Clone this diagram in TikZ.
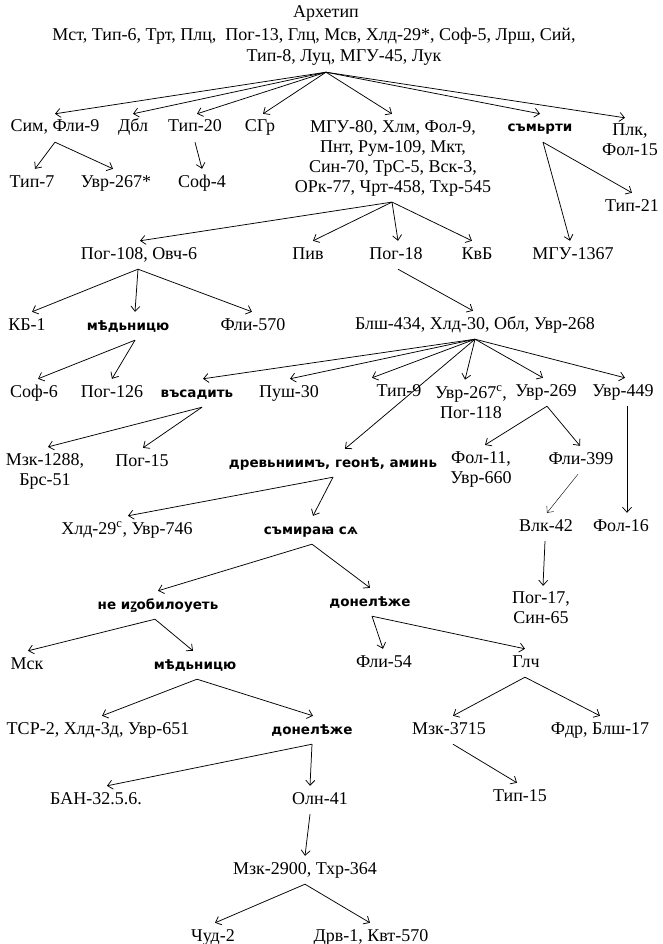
\documentclass[tikz,border=0pt]{standalone}
\usepackage{fontspec}
\setmainfont{Liberation Serif}
\newfontfamily\slavfont{DejaVu Sans}
\newfontfamily\zfont{Noto Sans}[FakeBold=2.2]
\usetikzlibrary{arrows.meta}
\tikzset{
  lbl/.style={font=\fontsize{18}{20}\selectfont, inner xsep=1pt, inner ysep=6pt, text height=12pt, text depth=4pt},
  mlbl/.style={font=\fontsize{18}{20}\selectfont, inner xsep=1pt, inner ysep=6pt, align=center},
  slav/.style={font=\slavfont\bfseries\fontsize{13.5}{16}\selectfont, inner xsep=1pt, inner ysep=6pt, text height=12pt, text depth=4pt},
  arr/.style={-{Straight Barb[length=5pt,width=9pt]}, line width=0.75pt},
}
\begin{document}
\begin{tikzpicture}[x=1pt,y=-1pt]
\useasboundingbox (0,0) rectangle (662,944);
% nodes
\node[lbl] (arch) at (326,14) {Архетип};
\node[lbl] (arch2) at (314,37) {Мст, Тип-6, Трт, Плц,~ Пог-13, Глц, Мсв, Хлд-29*, Соф-5, Лрш, Сий,};
\node[lbl] (arch3) at (344,58) {Тип-8, Луц, МГУ-45, Лук};
\node[lbl] (sim) at (55,128) {Сим, Фли-9};
\node[lbl] (dbl) at (133,128) {Дбл};
\node[lbl] (tip20) at (195,128) {Тип-20};
\node[lbl] (sgr) at (260,128) {СГр};
\node[mlbl] (mgu) at (393,158) {МГУ-80, Хлм, Фол-9,\\Пнт, Рум-109, Мкт,\\Син-70, ТрС-5, Вск-3,\\ОРк-77, Чрт-458, Тхр-545};
\node[slav] (smrt) at (540,128) {съмьрти};
\node[mlbl] (plk) at (630,140) {Плк,\\Фол-15};
\node[lbl] (tip7) at (32,183) {Тип-7};
\node[lbl] (uvr267) at (116,183) {Увр-267*};
\node[lbl] (sof4) at (202,183) {Соф-4};
\node[lbl] (tip21) at (632,207) {Тип-21};
\node[lbl] (pog108) at (139,255) {Пог-108, Овч-6};
\node[lbl] (piv) at (308,255) {Пив};
\node[lbl] (pog18) at (396,255) {Пог-18};
\node[lbl] (kvb) at (477,255) {КвБ};
\node[lbl] (mgu1367) at (573,255) {МГУ-1367};
\node[lbl] (kb1) at (27,326) {КБ-1};
\node[slav] (med1) at (128,326) {мѣдьницю};
\node[lbl] (fli570) at (253,326) {Фли-570};
\node[lbl] (blsh) at (475,325) {Блш-434, Хлд-30, Обл, Увр-268};
\node[lbl] (sof6) at (34,393) {Соф-6};
\node[lbl] (pog126) at (112,393) {Пог-126};
\node[slav] (vsad) at (197,393) {въсадить};
\node[lbl] (push30) at (289,393) {Пуш-30};
\node[lbl] (tip9) at (399,392) {Тип-9};
\node[mlbl] (uvr267c) at (471,402) {Увр-267\textsuperscript{с},\\Пог-118};
\node[lbl] (uvr269) at (546,392) {Увр-269};
\node[lbl] (uvr449) at (623,392) {Увр-449};
\node[mlbl] (mzk1288) at (45,471) {Мзк-1288,\\Брс-51};
\node[lbl] (pog15) at (142,462) {Пог-15};
\node[slav] (drev) at (333,463) {древьниимъ, геонѣ, аминь};
\node[mlbl] (fol11) at (481,469) {Фол-11,\\Увр-660};
\node[lbl] (fli399) at (581,460) {Фли-399};
\node[lbl] (hld29c) at (127,530) {Хлд-29\textsuperscript{с}, Увр-746};
\node[slav] (smir) at (311,530) {съмираꙗ сѧ};
\node[lbl] (vlk42) at (546,527) {Влк-42};
\node[lbl] (fol16) at (621,527) {Фол-16};
\node[slav] (neizob) at (158,605) {не и{\zfont ꙁ}обилоуеть};
\node[slav] (donel1) at (370,602) {донелѣже};
\node[mlbl] (pog17) at (541,608) {Пог-17,\\Син-65};
\node[lbl] (msk) at (27,665) {Мск};
\node[slav] (med2) at (195,665) {мѣдьницю};
\node[lbl] (fli54) at (384,663) {Фли-54};
\node[lbl] (glch) at (526,663) {Глч};
\node[lbl] (tsr2) at (98,730) {ТСР-2, Хлд-3д, Увр-651};
\node[slav] (donel2) at (312,730) {донелѣже};
\node[lbl] (mzk3715) at (449,730) {Мзк-3715};
\node[lbl] (fdr) at (600,730) {Фдр, Блш-17};
\node[lbl] (ban) at (96,800) {БАН-32.5.6.};
\node[lbl] (oln41) at (320,800) {Олн-41};
\node[lbl] (tip15) at (520,797) {Тип-15};
\node[lbl] (mzk2900) at (305,870) {Мзк-2900, Тхр-364};
\node[lbl] (chud2) at (213,937) {Чуд-2};
\node[lbl] (drv1) at (371,937) {Дрв-1, Квт-570};
% connectors
\draw[arr] ([xshift=-18pt]arch3.south) -- ([xshift=0pt]sim.north);
\draw[arr] ([xshift=-18pt]arch3.south) -- ([xshift=0pt]dbl.north);
\draw[arr] ([xshift=-18pt]arch3.south) -- ([xshift=2pt]tip20.north);
\draw[arr] ([xshift=-18pt]arch3.south) -- ([xshift=3pt]sgr.north);
\draw[arr] ([xshift=-18pt]arch3.south) -- ([xshift=-1pt]mgu.north);
\draw[arr] ([xshift=-18pt]arch3.south) -- ([xshift=0pt]smrt.north);
\draw[arr] ([xshift=-18pt]arch3.south) -- ([xshift=-5pt]plk.north);
\draw[arr] (sim.south) -- ([xshift=3pt]tip7.north);
\draw[arr] (sim.south) -- ([xshift=-3pt]uvr267.north);
\draw[arr] (tip20.south) -- (sof4.north);
\draw[arr] ([xshift=3pt]smrt.south) -- (tip21.north);
\draw[arr] ([xshift=3pt]smrt.south) -- ([xshift=-3pt]mgu1367.north);
\draw[arr] ([xshift=-1pt]mgu.south) -- ([xshift=1pt]pog108.north);
\draw[arr] ([xshift=-1pt]mgu.south) -- ([xshift=5pt]piv.north);
\draw[arr] ([xshift=-1pt]mgu.south) -- ([xshift=2pt]pog18.north);
\draw[arr] ([xshift=-1pt]mgu.south) -- ([xshift=-5pt]kvb.north);
\draw[arr] ([xshift=-1pt]pog108.south) -- ([xshift=5pt]kb1.north);
\draw[arr] ([xshift=-1pt]pog108.south) -- ([xshift=7pt]med1.north);
\draw[arr] ([xshift=-1pt]pog108.south) -- ([xshift=-1pt]fli570.north);
\draw[arr] ([xshift=2pt]pog18.south) -- ([xshift=-2pt]blsh.north);
\draw[arr] ([xshift=7pt]med1.south) -- ([xshift=4pt]sof6.north);
\draw[arr] ([xshift=7pt]med1.south) -- (pog126.north);
\draw[arr] (blsh.south) -- ([xshift=6pt]vsad.north);
\draw[arr] (blsh.south) -- ([xshift=1pt]push30.north);
\draw[arr] (blsh.south) -- ([xshift=-27pt]tip9.north);
\draw[arr] (blsh.south) -- ([xshift=12pt]drev.north);
\draw[arr] (blsh.south) -- ([xshift=-6pt]uvr267c.north);
\draw[arr] (blsh.south) -- ([xshift=-3pt]uvr269.north);
\draw[arr] (blsh.south) -- ([xshift=2pt]uvr449.north);
\draw[arr] ([xshift=5pt]vsad.south) -- ([xshift=3pt]mzk1288.north);
\draw[arr] ([xshift=5pt]vsad.south) -- ([xshift=1pt]pog15.north);
\draw[arr] ([xshift=1pt]uvr269.south) -- ([xshift=4pt]fol11.north);
\draw[arr] ([xshift=1pt]uvr269.south) -- ([xshift=-1pt]fli399.north);
\draw[arr] ([xshift=4pt]uvr449.south) -- ([xshift=6pt]fol16.north);
\draw[arr, line width=0.4pt] ([xshift=-3pt]fli399.south) -- ([xshift=1pt]vlk42.north);
\draw[arr] (drev.south) -- ([xshift=1pt]hld29c.north);
\draw[arr] (drev.south) -- ([xshift=2pt]smir.north);
\draw[arr] ([xshift=-1pt]vlk42.south) -- ([xshift=2pt]pog17.north);
\draw[arr] ([xshift=1pt]smir.south) -- (neizob.north);
\draw[arr] ([xshift=1pt]smir.south) -- (donel1.north);
\draw[arr] ([xshift=-3pt]neizob.south) -- ([xshift=1pt]msk.north);
\draw[arr] ([xshift=-3pt]neizob.south) -- ([xshift=-2pt]med2.north);
\draw[arr] ([xshift=2pt]donel1.south) -- ([xshift=-1pt]fli54.north);
\draw[arr] ([xshift=2pt]donel1.south) -- ([xshift=-1pt]glch.north);
\draw[arr] ([xshift=2pt]med2.south) -- ([xshift=4pt]tsr2.north);
\draw[arr] ([xshift=2pt]med2.south) -- ([xshift=1pt]donel2.north);
\draw[arr] ([xshift=-1pt]glch.south) -- ([xshift=4pt]mzk3715.north);
\draw[arr] ([xshift=-1pt]glch.south) -- (fdr.north);
\draw[arr] (donel2.south) -- ([xshift=11pt]ban.north);
\draw[arr] (donel2.south) -- ([xshift=-10pt]oln41.north);
\draw[arr] ([xshift=4pt]mzk3715.south) -- ([xshift=-3pt]tip15.north);
\draw[arr] ([xshift=-10pt]oln41.south) -- (mzk2900.north);
\draw[arr] (mzk2900.south) -- ([xshift=2pt]chud2.north);
\draw[arr] (mzk2900.south) -- ([xshift=-1pt]drv1.north);
\end{tikzpicture}
\end{document}
